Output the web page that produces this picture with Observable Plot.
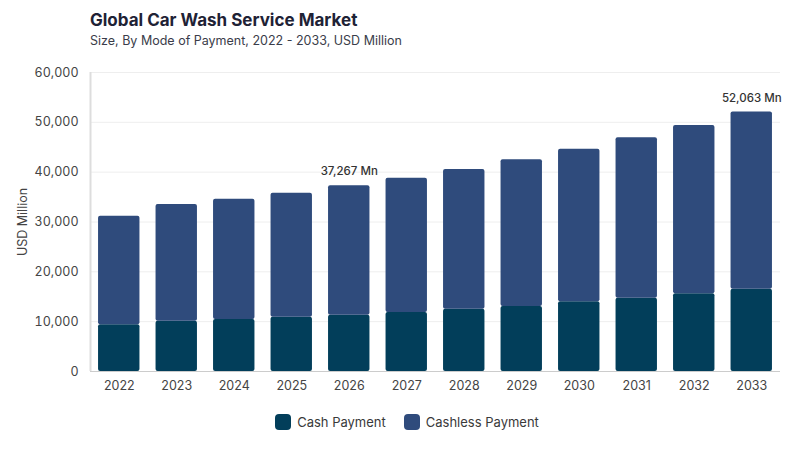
<!DOCTYPE html>
<html>
<head>
<meta charset="utf-8">
<script src="https://cdn.jsdelivr.net/npm/d3@7"></script>
<script src="https://cdn.jsdelivr.net/npm/@observablehq/plot@0.6"></script>
<style>
  body { margin: 0; background: #fff; font-family: Inter, "Noto Sans", sans-serif; }
  #wrap { position: relative; width: 800px; height: 450px; overflow: hidden; }
  #title { position: absolute; left: 90px; top: 10px; font-size: 17px; font-weight: 700; color: #1e2235; }
  #subtitle { position: absolute; left: 90px; top: 33px; font-size: 12.5px; color: #3a3d4a; }
  #chart { position: absolute; left: 0; top: 55px; }
  #legend { position: absolute; top: 414px; left: 0; width: 800px; display: flex; justify-content: center; gap: 18px; font-size: 13px; color: #3a3a3a; padding-left: 14px; box-sizing: border-box; }
  .item { display: flex; align-items: center; gap: 6px; }
  .sw { width: 16px; height: 16px; border-radius: 4px; display: inline-block; }
</style>
</head>
<body>
<div id="wrap">
  <div id="title">Global Car Wash Service Market</div>
  <div id="subtitle">Size, By Mode of Payment, 2022 - 2033, USD Million</div>
  <div id="chart"></div>
  <div id="legend"></div>
</div>
<script>
const years = ["2022","2023","2024","2025","2026","2027","2028","2029","2030","2031","2032","2033"];
const cash = [9370, 10090, 10430, 10900, 11300, 11840, 12500, 13040, 13980, 14720, 15590, 16520];
const totals = [31160, 33510, 34580, 35780, 37267, 38800, 40540, 42480, 44610, 46890, 49370, 52063];
const seriesNames = ["Cash Payment", "Cashless Payment"];
const seriesColors = ["#023e5a", "#2f4b7c"];
const annotated = ["2026", "2033"];
const yTicks = [0, 10000, 20000, 30000, 40000, 50000, 60000];

const rows = [];
years.forEach((y, i) => {
  rows.push({year: y, series: seriesNames[0], value: cash[i]});
  rows.push({year: y, series: seriesNames[1], value: totals[i] - cash[i]});
});
const labels = years.map((y, i) => ({year: y, total: totals[i]})).filter(d => annotated.includes(d.year));

const fmt = d3.format(",");
const chart = Plot.plot({
  width: 800,
  height: 350,
  marginTop: 17,
  marginBottom: 34,
  marginLeft: 90,
  marginRight: 20,
  style: {fontFamily: "Inter, 'Noto Sans', sans-serif", fontSize: "12.5px", color: "#444"},
  x: {domain: years, label: null, paddingInner: 0.28, paddingOuter: 0.14, round: false, tickSize: 0, tickPadding: 10},
  y: {domain: [0, 60000], ticks: yTicks, tickFormat: fmt, label: "USD Million", labelAnchor: "center", labelArrow: "none", labelOffset: 72, grid: false, tickSize: 0, tickPadding: 12},
  color: {domain: seriesNames, range: seriesColors},
  marks: [
    Plot.gridY(yTicks, {stroke: "#eeeeee", strokeOpacity: 1}),
    Plot.barY(rows, {x: "year", y: "value", fill: "series", order: seriesNames, rx: 2}),
    Plot.ruleY([0], {stroke: "#cccccc"}),
    Plot.text(labels, {x: "year", y: "total", text: d => fmt(d.total) + " Mn", dy: -14, fill: "#333", fontWeight: 500, fontSize: 11.5})
  ]
});
document.getElementById("chart").appendChild(chart);
const svg = d3.select(chart);
svg.append("line").attr("x1", 90.5).attr("x2", 90.5).attr("y1", 17).attr("y2", 316).attr("stroke", "#dddddd").attr("stroke-width", 2);

const legend = document.getElementById("legend");
seriesNames.forEach((n, i) => {
  const it = document.createElement("div");
  it.className = "item";
  it.innerHTML = `<span class="sw" style="background:${seriesColors[i]}"></span><span>${n}</span>`;
  legend.appendChild(it);
});
</script>
</body>
</html>
